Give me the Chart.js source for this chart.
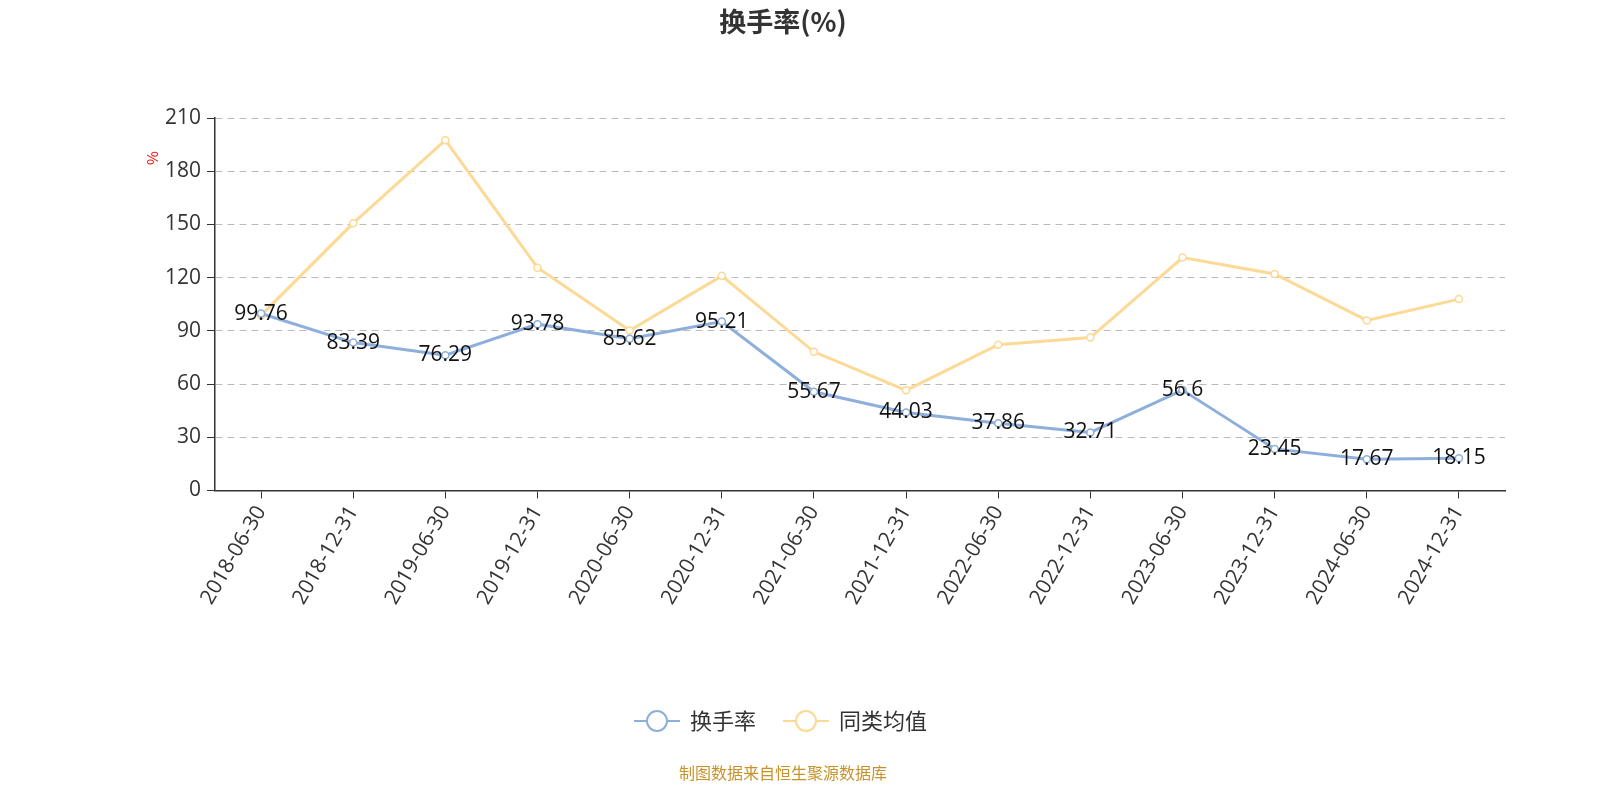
<!DOCTYPE html>
<html><head><meta charset="utf-8">
<script src="https://cdn.jsdelivr.net/npm/chart.js@4/dist/chart.umd.min.js"></script>
<style>body{margin:0;background:#fff}#wrap{width:1600px;height:800px}</style>
</head><body><div id="wrap"><canvas id="c"></canvas></div>
<script>
const dates = ["2018-06-30","2018-12-31","2019-06-30","2019-12-31","2020-06-30","2020-12-31","2021-06-30","2021-12-31","2022-06-30","2022-12-31","2023-06-30","2023-12-31","2024-06-30","2024-12-31"];
const turnover = [99.76,83.39,76.29,93.78,85.62,95.21,55.67,44.03,37.86,32.71,56.6,23.45,17.67,18.15];
const peerAvg = [98.7,150.7,197.5,125.6,90.2,121,78.2,56.5,82.2,86.2,131.3,122.1,95.9,107.9];
const yTicks = [0,30,60,90,120,150,180,210];
const FONT = "'Open Sans','Noto Sans CJK SC',sans-serif";
const CJK = "'Noto Sans CJK SC','Noto Sans',sans-serif";
const BLUE = "#8eaedc", YEL = "#fcd994";

// data labels, title, unit, legend, source
const extras = {
  id: "extras",
  afterDatasetsDraw(chart) {
    const ctx = chart.ctx;
    ctx.save();
    ctx.font = "21px " + FONT;
    ctx.fillStyle = "#111";
    ctx.textAlign = "center"; ctx.textBaseline = "middle";
    chart.getDatasetMeta(0).data.forEach((p, i) => ctx.fillText(String(turnover[i]), p.x, p.y));
    ctx.font = "bold 27px " + CJK; ctx.fillStyle = "#333";
    ctx.fillText("换手率(%)", 783, 22);
    ctx.save(); ctx.translate(152, 158); ctx.rotate(-Math.PI / 2);
    ctx.font = "15px " + CJK; ctx.fillStyle = "red"; ctx.fillText("%", 0, 0); ctx.restore();
    const items = [[BLUE, "换手率", 634], [YEL, "同类均值", 783]];
    ctx.font = "22px " + CJK; ctx.textAlign = "left";
    items.forEach(([col, txt, x]) => {
      ctx.strokeStyle = col; ctx.lineWidth = 2;
      ctx.beginPath(); ctx.moveTo(x, 721); ctx.lineTo(x + 46, 721); ctx.stroke();
      ctx.beginPath(); ctx.arc(x + 23, 721, 10, 0, Math.PI * 2);
      ctx.fillStyle = "#fff"; ctx.fill(); ctx.stroke();
      ctx.fillStyle = "#333"; ctx.fillText(txt, x + 56, 721);
    });
    ctx.font = "16px " + CJK; ctx.fillStyle = "#c8922a"; ctx.textAlign = "center";
    ctx.fillText("制图数据来自恒生聚源数据库", 783, 773);
    ctx.restore();
  }
};

new Chart(document.getElementById("c"), {
  type: "line",
  data: {
    labels: dates,
    datasets: [
      { label: "换手率", data: turnover, borderColor: BLUE, backgroundColor: "#fff", borderWidth: 3,
        pointRadius: 3.5, pointBorderWidth: 1.5, pointBackgroundColor: "#fff", tension: 0 },
      { label: "同类均值", data: peerAvg, borderColor: YEL, backgroundColor: "#fff", borderWidth: 3,
        pointRadius: 3.5, pointBorderWidth: 1.5, pointBackgroundColor: "#fff", tension: 0 }
    ]
  },
  options: {
    responsive: true, maintainAspectRatio: false, animation: false,
    layout: { padding: { top: 118, left: 150, right: 95, bottom: 188 } },
    plugins: { legend: { display: false }, tooltip: { enabled: false } },
    scales: {
      x: {
        offset: true,
        grid: { drawOnChartArea: false, tickLength: 8, tickColor: "#333" },
        border: { color: "#333", width: 1.5 },
        ticks: { maxRotation: 60, minRotation: 60, color: "#333", font: { size: 21, family: FONT } }
      },
      y: {
        min: 0, max: 210, afterBuildTicks: s => { s.ticks = yTicks.map(v => ({ value: v })); },
        grid: { color: "#bbb", drawTicks: true, tickLength: 8, tickColor: "#333" },
        border: { color: "#333", width: 1.5, dash: [7, 5] },
        ticks: { color: "#333", font: { size: 21, family: FONT }, padding: 6 },
        afterFit: s => { s.width = 65; }
      }
    }
  },
  plugins: [extras]
});
</script></body></html>
